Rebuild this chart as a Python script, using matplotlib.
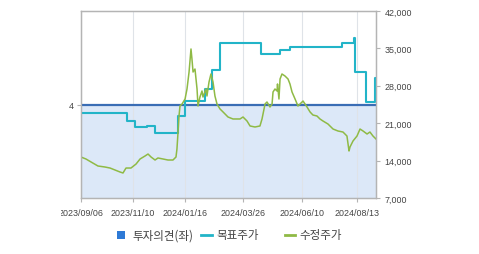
import matplotlib.pyplot as plt
from matplotlib.lines import Line2D
from matplotlib.patches import Rectangle
from matplotlib.transforms import Bbox

plt.rcParams['font.family'] = ['Liberation Sans', 'Noto Sans CJK KR', 'DejaVu Sans']

# x축: 거래일 순번 (0 = 2023/09/06)
tick_pos = [0, 43, 86, 134, 182.6, 228.1]
tick_labels = ['2023/09/06', '2023/11/10', '2024/01/16', '2024/03/26', '2024/06/10', '2024/08/13']
x_end = 243.8

# 투자의견 (좌축)
opinion_x = [0, x_end]
opinion_y = [4, 4]

# 목표주가 (계단형)
target_x = [0, 38.0, 44.6, 54.5, 61.2, 80.2, 86.0, 102.5, 108.3, 114.9,
            148.8, 164.5, 172.7, 215.7, 225.6, 226.4, 235.5, 243.0, x_end]
target_y = [23000, 21400, 20300, 20500, 19150, 22300, 25200, 27400, 31000, 36100,
            33950, 34700, 35300, 36100, 36900, 30500, 25000, 29400, 29400]

# 수정주가
price_x = [0, 4.1, 8.3, 14.0, 19.8, 24.0, 28.1, 32.2, 34.7, 37.2, 41.3, 45.5, 48.8,
           52.9, 55.4, 57.9, 61.2, 63.6, 67.8, 71.9, 76.0, 78.5, 79.3, 80.2, 81.0,
           81.8, 83.5, 86.0, 87.6, 89.3, 90.9, 91.7, 92.6, 94.2, 95.9, 96.7, 98.3,
           100.0, 100.8, 103.3, 104.1, 105.8, 107.4, 109.1, 110.7, 112.4, 114.9,
           117.4, 121.5, 125.6, 131.4, 133.9, 137.2, 139.7, 143.8, 147.9, 149.6,
           152.1, 153.7, 156.2, 157.9, 158.7, 160.3, 162.0, 162.4, 163.6, 164.5,
           166.1, 168.6, 171.1, 172.7, 174.4, 176.9, 179.3, 181.0, 183.5, 186.8,
           189.3, 191.7, 195.0, 197.5, 200.0, 204.1, 208.3, 212.4, 216.5, 219.8,
           221.5, 222.3, 224.8, 228.1, 230.6, 233.1, 236.4, 238.8, 241.3, 243.8]
price_y = [14670, 14300, 13740, 12990, 12800, 12610, 12240, 11870, 11680, 12610,
           12610, 13360, 14300, 14860, 15230, 14670, 14110, 14490, 14300, 14110,
           14110, 14670, 16170, 19350, 22350, 24220, 24590, 25530, 27400, 30580,
           34890, 33020, 30580, 31140, 27400, 24220, 25900, 27030, 25900, 27400,
           26090, 28710, 30210, 28710, 26090, 24590, 23660, 23100, 22160, 21790,
           21790, 22160, 21410, 20480, 20290, 20480, 21790, 24590, 24970, 24030,
           24590, 26840, 27400, 27030, 28340, 25530, 29270, 30210, 29830, 29270,
           28340, 26840, 25530, 24220, 24590, 25150, 24030, 23100, 22530, 22350,
           21790, 21410, 20850, 19910, 19540, 19350, 18600, 15800, 16540, 17670,
           18600, 19910, 19540, 18980, 19350, 18600, 18040]

grid_c = '#dfe3e8'
spine_c = '#b4b4b4'
text_c = '#444444'

fig = plt.figure(figsize=(4.79, 2.55), dpi=100)
ax = fig.add_axes([81 / 479, 1 - 199 / 255, 295 / 479, 187 / 255])

ax.fill_between(opinion_x, 0, opinion_y, color='#dce8f8', lw=0, zorder=1)
ax.plot(opinion_x, opinion_y, color='#3a6db5', lw=1.6, zorder=3)
ax.set_xlim(0, x_end)
ax.set_ylim(0, 8)
ax.set_yticks([4])
ax.set_xticks(tick_pos)
ax.set_xticklabels(tick_labels)
ax.grid(axis='x', color=grid_c, lw=0.8)
ax.tick_params(axis='both', length=3, color=spine_c, labelsize=6.4,
               labelcolor=text_c)
ax.tick_params(axis='x', pad=4)
ax.tick_params(axis='y', pad=2)

ax2 = ax.twinx()
ax2.step(target_x, target_y, where='post', color='#22b4c8', lw=1.5)
ax2.plot(price_x, price_y, color='#8fba45', lw=1.1)
ax2.set_ylim(7000, 42000)
ax2.set_yticks(range(7000, 42001, 7000))
ax2.yaxis.set_major_formatter(lambda v, p: f'{v:,.0f}')
ax2.tick_params(axis='y', length=3, color=spine_c, labelsize=6.4,
                labelcolor=text_c, pad=3)

for a in (ax, ax2):
    for s in a.spines.values():
        s.set_color(spine_c)
        s.set_linewidth(0.9)

# 첫 번째 날짜 라벨은 왼쪽이 잘려 보임
first = ax.get_xticklabels()[0]
first.set_clip_box(Bbox.from_extents(61, 0, 479, 255))
first.set_clip_on(True)

# 범례
ky = 1 - 236 / 255
kfont = ['Noto Sans CJK KR', 'DejaVu Sans']
fig.add_artist(Rectangle((117 / 479, 1 - 240 / 255), 8 / 479, 8 / 255,
                         transform=fig.transFigure, color='#2e7ad6', lw=0))
fig.text(132 / 479, ky, '투자의견(좌)', fontsize=8.3, color=text_c, va='center',
         family=kfont)
fig.add_artist(Line2D([201 / 479, 212 / 479], [ky, ky], transform=fig.transFigure,
                      color='#22b4c8', lw=2))
fig.text(216 / 479, ky, '목표주가', fontsize=8.3, color=text_c, va='center',
         family=kfont)
fig.add_artist(Line2D([285 / 479, 295 / 479], [ky, ky], transform=fig.transFigure,
                      color='#8fba45', lw=2))
fig.text(299 / 479, ky, '수정주가', fontsize=8.3, color=text_c, va='center',
         family=kfont)

plt.savefig('out.png', dpi=100)
